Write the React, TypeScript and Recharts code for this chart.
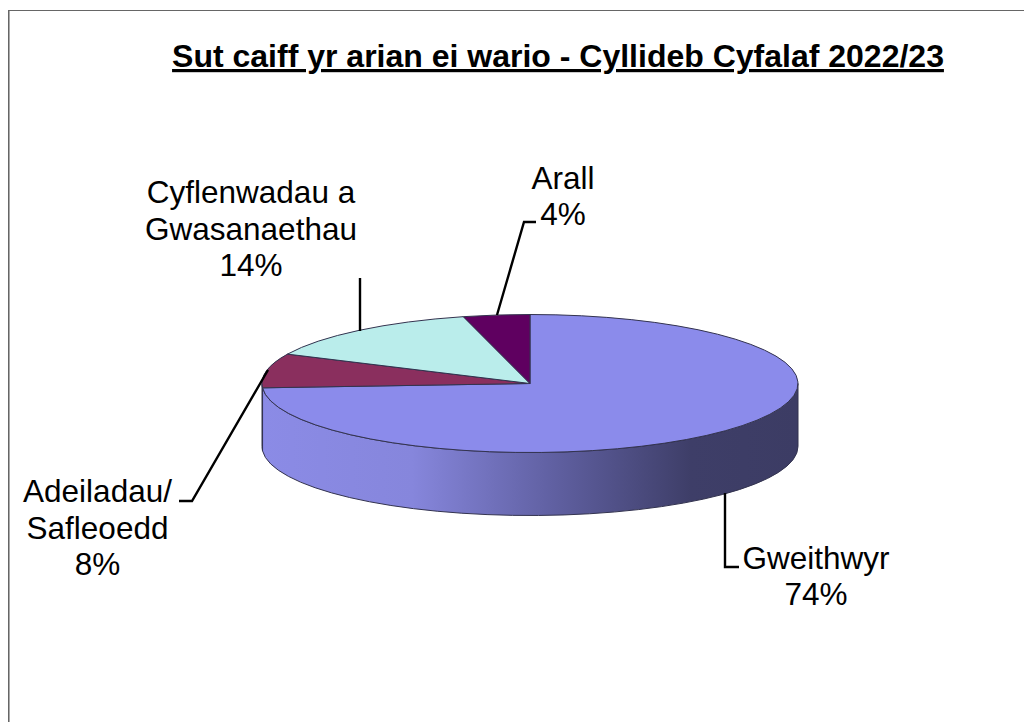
import { PieChart, Pie, Cell } from "recharts";

const categories = ["Gweithwyr", "Adeiladau/\nSafleoedd", "Cyflenwadau a\nGwasanaethau", "Arall"];
const shares = [74, 8, 14, 4];
const sliceColors = ["#8B8BEB", "#8A2F5E", "#BAEDEB", "#5F0060"];

const tableData = categories.map((name, i) => ({ name, value: shares[i] }));

// pie is drawn flattened, so the radius is squashed vertically
const SQUASH = 69 / 268;
const DEPTH = 63;

// label placement: text centre x, first baseline y, leader line points
const labelLayout = [
  { x: 816, y: 568.5, line: "725,493 725,567 739,567" },
  { x: 97.5, y: 502, line: "268,370 192,501 179,501" },
  { x: 251, y: 203, line: "360,278 360,331" },
  { x: 563, y: 188.5, line: "497,315 524,222 536,222" },
];

const ellipsePoint = (cx: number, cy: number, r: number, angle: number) => {
  const rad = (-angle * Math.PI) / 180;
  return [cx + r * Math.cos(rad), cy + r * SQUASH * Math.sin(rad)];
};

function FlatSlice(props: any) {
  const { cx, cy, outerRadius: r, startAngle, endAngle, fill } = props;
  const ry = r * SQUASH;
  const [x0, y0] = ellipsePoint(cx, cy, r, startAngle);
  const [x1, y1] = ellipsePoint(cx, cy, r, endAngle);
  const large = Math.abs(startAngle - endAngle) > 180 ? 1 : 0;

  // front wall only exists between 0 and -180 degrees
  const wallStart = Math.min(startAngle, 0);
  const wallEnd = Math.max(endAngle, -180);
  let wall = null;
  if (wallStart > wallEnd) {
    const [wx0, wy0] = ellipsePoint(cx, cy, r, wallStart);
    const [wx1, wy1] = ellipsePoint(cx, cy, r, wallEnd);
    const d =
      `M${wx0},${wy0} A${r},${ry} 0 0 1 ${wx1},${wy1} L${wx1},${wy1 + DEPTH} ` +
      `A${r},${ry} 0 0 0 ${wx0},${wy0 + DEPTH} Z`;
    wall = <path d={d} fill="url(#wallShade)" stroke="#33334f" strokeWidth={1} />;
  }

  return (
    <g>
      {wall}
      <path
        d={`M${cx},${cy} L${x0},${y0} A${r},${ry} 0 ${large} 1 ${x1},${y1} Z`}
        fill={fill}
        stroke="#33334f"
        strokeWidth={1}
      />
    </g>
  );
}

function SliceLabel(props: any) {
  const { index } = props;
  const pos = labelLayout[index];
  const lines = [...categories[index].split("\n"), `${shares[index]}%`];
  return (
    <g>
      <polyline points={pos.line} fill="none" stroke="#000" strokeWidth={2.4} />
      <text x={pos.x} y={pos.y} textAnchor="middle" fontFamily="Liberation Sans" fontSize={31.5} fill="#000">
        {lines.map((l, i) => (
          <tspan key={i} x={pos.x} y={pos.y + i * 36.7}>
            {l}
          </tspan>
        ))}
      </text>
    </g>
  );
}

export default function App() {
  return (
    <div style={{ position: "fixed", left: 0, top: 0, width: 1024, height: 722, overflow: "hidden", background: "#fff" }}>
      <div style={{ position: "absolute", left: 8, top: 10, width: 1100, height: 800, border: "1px solid #666" }} />
      <div style={{ position: "absolute", left: 9, top: 11, width: 1, height: 800, background: "#aaa" }} />
      <div style={{ position: "absolute", left: 0, top: 0 }}>
        <PieChart width={1024} height={722} margin={{ top: 0, right: 0, bottom: 0, left: 0 }}>
          <defs>
            <linearGradient id="wallShade" gradientUnits="userSpaceOnUse" x1={262} y1={0} x2={798} y2={0}>
              <stop offset="0" stopColor="#8B8BE6" />
              <stop offset="0.28" stopColor="#8686DC" />
              <stop offset="0.55" stopColor="#5F5FA0" />
              <stop offset="0.8" stopColor="#3E3E68" />
              <stop offset="1" stopColor="#3C3C64" />
            </linearGradient>
          </defs>
          <text
            x={558}
            y={67}
            textAnchor="middle"
            fontFamily="Liberation Sans"
            fontSize={32}
            fontWeight="bold"
            textDecoration="underline"
            fill="#000"
          >
            Sut caiff yr arian ei wario - Cyllideb Cyfalaf 2022/23
          </text>
          <Pie
            data={tableData}
            dataKey="value"
            cx={530}
            cy={383.5}
            outerRadius={268}
            startAngle={90}
            endAngle={-270}
            paddingAngle={0}
            shape={FlatSlice}
            label={SliceLabel}
            labelLine={false}
            isAnimationActive={false}
          >
            {tableData.map((d, i) => (
              <Cell key={d.name} fill={sliceColors[i]} />
            ))}
          </Pie>
        </PieChart>
      </div>
    </div>
  );
}
